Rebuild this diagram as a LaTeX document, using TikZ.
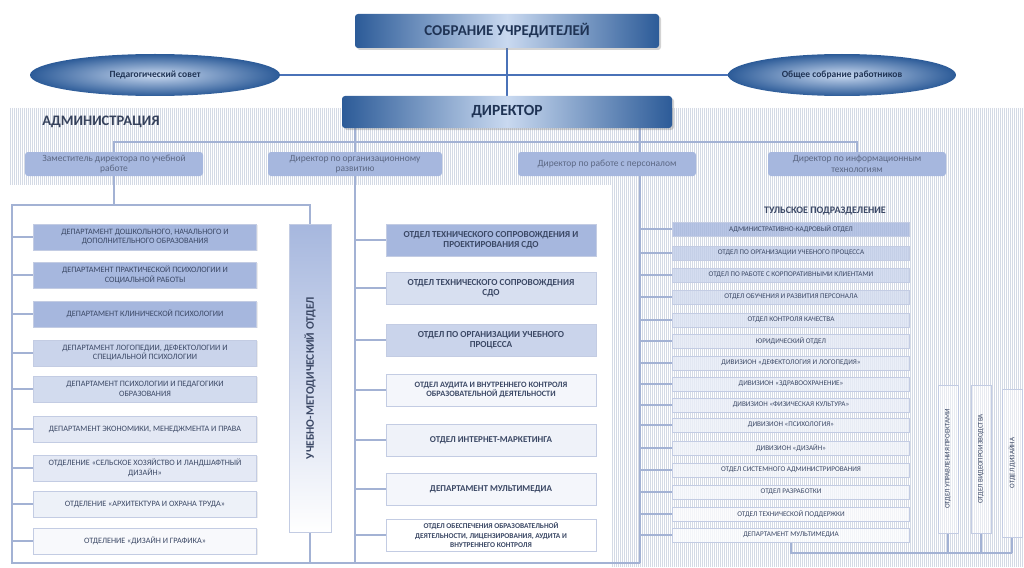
\documentclass[tikz,border=0pt]{standalone}
\usepackage{fontspec}
\setmainfont{Carlito}
\usetikzlibrary{positioning,shapes.geometric,shadows}

\definecolor{topdark}{HTML}{2C5B98}
\definecolor{toplight}{HTML}{C9D9F0}
\definecolor{navy}{HTML}{1F3354}
\definecolor{peri}{HTML}{A6B7DE}
\definecolor{wire}{HTML}{A3B2D4}
\definecolor{mainwire}{HTML}{4A72B8}
\definecolor{hatchc}{HTML}{D4DAE5}
\definecolor{slate}{HTML}{3B4865}
\definecolor{greytext}{HTML}{5C6884}
\definecolor{edgec}{HTML}{C3CCE3}

\pgfdeclarelayer{bg}
\pgfsetlayers{bg,main}

\tikzset{
  topbox/.style={rectangle, rounded corners=3pt, left color=topdark, right color=topdark,
    middle color=toplight, text=navy, font=\bfseries\fontsize{15}{17}\selectfont,
    drop shadow={opacity=0.35,shadow xshift=2pt,shadow yshift=-2pt}},
  council/.style={ellipse, minimum width=250pt, minimum height=42pt, inner color=toplight,
    outer color=topdark, text=navy, font=\bfseries\fontsize{9.5}{11}\selectfont},
  head/.style={rectangle, rounded corners=3pt, fill=peri, minimum width=178pt, minimum height=24pt,
    inner sep=1pt, align=center, text=greytext, font=\fontsize{9.5}{10.5}\selectfont},
  lbox/.style={rectangle, draw=edgec, minimum width=223pt, minimum height=26pt, inner sep=1pt,
    align=center, text=slate, font=\fontsize{8.2}{9.5}\selectfont,
    drop shadow={opacity=0.15,shadow xshift=1pt,shadow yshift=-1pt}},
  mbox/.style={rectangle, draw=edgec, minimum width=210pt, minimum height=32pt, inner sep=1pt,
    align=center, text=slate, drop shadow={opacity=0.15,shadow xshift=1pt,shadow yshift=-1pt}},
  tbox/.style={rectangle, draw=edgec, minimum width=237pt, minimum height=14pt, inner sep=0pt,
    fill opacity=0.8, text opacity=1, text=slate, font=\fontsize{7.2}{8}\selectfont},
  vbox/.style={rectangle, draw=edgec, rotate=90, minimum width=148pt, minimum height=20pt,
    inner sep=0pt, fill=white, fill opacity=0.45, text opacity=1, text=slate,
    font=\fontsize{7}{8}\selectfont},
  link/.style={draw=wire, line width=1.3pt},
  mainlink/.style={draw=mainwire, line width=2pt},
  hatch/.style={draw=hatchc, line width=0.6pt}
}

\begin{document}
\begin{tikzpicture}[x=1pt, y=-1pt]
  \useasboundingbox (0,0) rectangle (1024,567);

  % top
  \node[topbox, minimum width=304pt, minimum height=34pt] (sob) at (507,31) {СОБРАНИЕ УЧРЕДИТЕЛЕЙ};
  \node[council] (ped) at (155,75) {Педагогический совет};
  \node[council, minimum width=228pt] (obs) at (842,75) {Общее собрание работников};
  \node[topbox, minimum width=330pt, minimum height=32pt, font=\bfseries\fontsize{15.5}{17}\selectfont] (dir) at (507,112) {ДИРЕКТОР};
  \node[text=slate!90!black, font=\bfseries\fontsize{14.5}{16}\selectfont] (admin) at (101,122) {АДМИНИСТРАЦИЯ};

  \node[head] (zam) at (114,164) {Заместитель директора по учебной\\работе};
  \node[head, minimum width=174pt] (org) at (355,164) {Директор по организационному\\развитию};
  \node[head] (pers) at (607,164) {Директор по работе с персоналом};
  \node[head] (inf) at (857,164) {Директор по информационным\\технологиям};

  % left column
  \foreach \y/\p/\t [count=\i] in {
    237/100/{ДЕПАРТАМЕНТ ДОШКОЛЬНОГО, НАЧАЛЬНОГО И\\ДОПОЛНИТЕЛЬНОГО ОБРАЗОВАНИЯ},
    275/100/{ДЕПАРТАМЕНТ ПРАКТИЧЕСКОЙ ПСИХОЛОГИИ И\\СОЦИАЛЬНОЙ РАБОТЫ},
    314/100/{ДЕПАРТАМЕНТ КЛИНИЧЕСКОЙ ПСИХОЛОГИИ},
    353/60/{ДЕПАРТАМЕНТ ЛОГОПЕДИИ, ДЕФЕКТОЛОГИИ И\\СПЕЦИАЛЬНОЙ ПСИХОЛОГИИ},
    389/50/{ДЕПАРТАМЕНТ ПСИХОЛОГИИ И ПЕДАГОГИКИ\\ОБРАЗОВАНИЯ},
    429/32/{ДЕПАРТАМЕНТ ЭКОНОМИКИ, МЕНЕДЖМЕНТА И ПРАВА},
    468/30/{ОТДЕЛЕНИЕ «СЕЛЬСКОЕ ХОЗЯЙСТВО И ЛАНДШАФТНЫЙ\\ДИЗАЙН»},
    504/20/{ОТДЕЛЕНИЕ «АРХИТЕКТУРА И ОХРАНА ТРУДА»},
    541/8/{ОТДЕЛЕНИЕ «ДИЗАЙН И ГРАФИКА»}}
    \node[lbox, fill=peri!\p!white] (lc\i) at (145,\y) {\t};

  \node[rectangle, draw=edgec, minimum width=42pt, minimum height=308pt,
    top color=peri, bottom color=white,
    label={[rotate=90, text=slate, font=\bfseries\fontsize{11.5}{13}\selectfont]center:УЧЕБНО-МЕТОДИЧЕСКИЙ ОТДЕЛ}]
    (umo) at (310,378) {};

  % middle column
  \foreach \y/\p/\s/\t [count=\i] in {
    240/100/9.2/{ОТДЕЛ ТЕХНИЧЕСКОГО СОПРОВОЖДЕНИЯ И\\ПРОЕКТИРОВАНИЯ СДО},
    288/45/9.2/{ОТДЕЛ ТЕХНИЧЕСКОГО СОПРОВОЖДЕНИЯ\\СДО},
    340/60/9.2/{ОТДЕЛ ПО ОРГАНИЗАЦИИ УЧЕБНОГО\\ПРОЦЕССА},
    390/12/8.2/{ОТДЕЛ АУДИТА И ВНУТРЕННЕГО КОНТРОЛЯ\\ОБРАЗОВАТЕЛЬНОЙ ДЕЯТЕЛЬНОСТИ},
    440/18/9/{ОТДЕЛ ИНТЕРНЕТ-МАРКЕТИНГА},
    489/12/9/{ДЕПАРТАМЕНТ МУЛЬТИМЕДИА},
    535/0/7.4/{ОТДЕЛ ОБЕСПЕЧЕНИЯ ОБРАЗОВАТЕЛЬНОЙ\\ДЕЯТЕЛЬНОСТИ, ЛИЦЕНЗИРОВАНИЯ, АУДИТА И\\ВНУТРЕННЕГО КОНТРОЛЯ}}
    \node[mbox, fill=peri!\p!white, font=\bfseries\fontsize{\s}{9.5}\selectfont] (mc\i) at (491,\y) {\t};

  % tula
  \node[text=slate, font=\bfseries\fontsize{10}{12}\selectfont] (tula) at (825,211) {ТУЛЬСКОЕ ПОДРАЗДЕЛЕНИЕ};
  \foreach \y/\p/\t [count=\i] in {
    229/100/{АДМИНИСТРАТИВНО-КАДРОВЫЙ ОТДЕЛ},
    253/70/{ОТДЕЛ ПО ОРГАНИЗАЦИИ УЧЕБНОГО ПРОЦЕССА},
    275/58/{ОТДЕЛ ПО РАБОТЕ С КОРПОРАТИВНЫМИ КЛИЕНТАМИ},
    297/50/{ОТДЕЛ ОБУЧЕНИЯ И РАЗВИТИЯ ПЕРСОНАЛА},
    320/40/{ОТДЕЛ КОНТРОЛЯ КАЧЕСТВА},
    341/32/{ЮРИДИЧЕСКИЙ ОТДЕЛ},
    363/28/{ДИВИЗИОН «ДЕФЕКТОЛОГИЯ И ЛОГОПЕДИЯ»},
    384/25/{ДИВИЗИОН «ЗДРАВООХРАНЕНИЕ»},
    405/22/{ДИВИЗИОН «ФИЗИЧЕСКАЯ КУЛЬТУРА»},
    425/20/{ДИВИЗИОН «ПСИХОЛОГИЯ»},
    448/17/{ДИВИЗИОН «ДИЗАЙН»},
    470/14/{ОТДЕЛ СИСТЕМНОГО АДМИНИСТРИРОВАНИЯ},
    492/10/{ОТДЕЛ РАЗРАБОТКИ},
    514/5/{ОТДЕЛ ТЕХНИЧЕСКОЙ ПОДДЕРЖКИ},
    535/4/{ДЕПАРТАМЕНТ МУЛЬТИМЕДИА}}
    \node[tbox, fill=peri!\p!white] (tb\i) at (791,\y) {\t};

  \node[vbox] (vb1) at (948,459) {ОТДЕЛ УПРАВЛЕНИЯ ПРОЕКТАМИ};
  \node[vbox] (vb2) at (981,459) {ОТДЕЛ ВИДЕОПРОИЗВОДСТВА};
  \node[vbox] (vb3) at (1012,463) {ОТДЕЛ ДИЗАЙНА};

  \coordinate (bus) at (0,142);
  \coordinate (lbusT) at (12,205);
  \coordinate (lbusB) at (12,563);
  \coordinate (mbus) at (355,563);
  \coordinate (tbus) at (640,563);
  \coordinate (vbus) at (0,553);

  \begin{pgfonlayer}{bg}
    \foreach \x in {10,12,...,1024} \draw[hatch] (\x,108) -- (\x,185);
    \foreach \x in {612,614,...,1024} \draw[hatch] (\x,185) -- (\x,567);

    \draw[mainlink] (ped) -- (obs);
    \draw[mainlink] (sob) -- (dir);
    \draw[link] (zam.north) |- (inf.north |- bus) -- (inf.north);
    \draw[link] (dir.south -| mbus) -- (mbus) -- (tbus);
    \draw[link] (dir.south -| tbus) -- (tbus);
    \draw[link] (zam.south) -- (zam.south |- lbusT);
    \draw[link] (umo.north) |- (lbusT) -- (lbusB) -- (mbus);
    \draw[link] (umo.south) -- (umo.south |- lbusB);
    \foreach \i in {1,...,9} \draw[link] (lc\i.west) -- (lc\i.west -| lbusT);
    \foreach \i in {1,...,7} \draw[link] (mc\i.west) -- (mc\i.west -| mbus);
    \foreach \i in {1,...,15} \draw[link] (tb\i.west) -- (tb\i.west -| tbus);
    \draw[link] (tb15.south) |- (vb3.west |- vbus);
    \foreach \i in {1,2,3} \draw[link] (vb\i.west) -- (vb\i.west |- vbus);
  \end{pgfonlayer}
\end{tikzpicture}
\end{document}
